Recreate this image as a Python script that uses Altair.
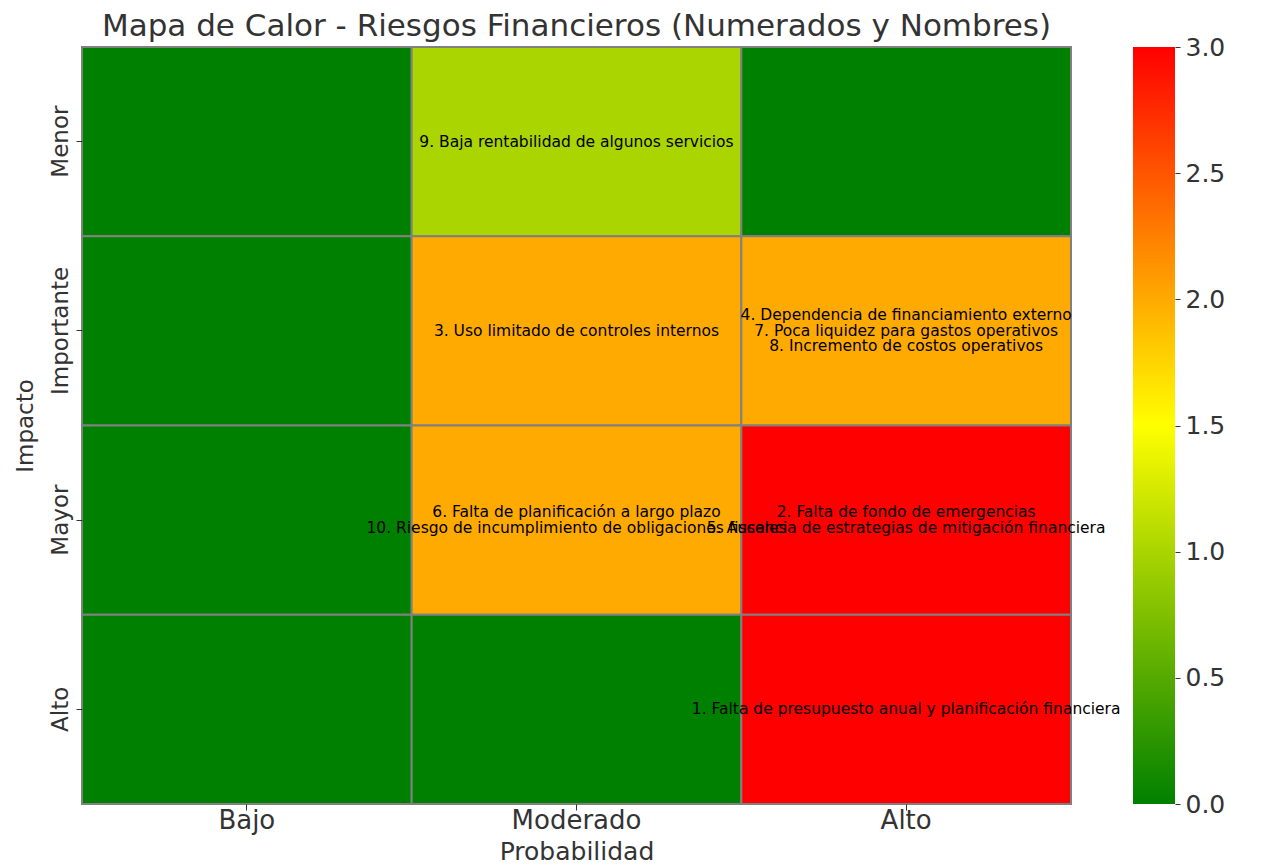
import altair as alt
import pandas as pd

# Data
impacto = ["Menor", "Importante", "Mayor", "Alto"]
probabilidad = ["Bajo", "Moderado", "Alto"]
valores = [
    [0, 1, 0],
    [0, 2, 2],
    [0, 2, 3],
    [0, 0, 3],
]
etiquetas = [
    ["", "9. Baja rentabilidad de algunos servicios", ""],
    ["", "3. Uso limitado de controles internos",
     "4. Dependencia de financiamiento externo\n7. Poca liquidez para gastos operativos\n8. Incremento de costos operativos"],
    ["", "6. Falta de planificación a largo plazo\n10. Riesgo de incumplimiento de obligaciones fiscales",
     "2. Falta de fondo de emergencias\n5. Ausencia de estrategias de mitigación financiera"],
    ["", "", "1. Falta de presupuesto anual y planificación financiera"],
]
escala_min, escala_max = 0, 3
colorbar_ticks = [0.0, 0.5, 1.0, 1.5, 2.0, 2.5, 3.0]
colores = ["#008000", "#ffff00", "#ff0000"]

FONT = "DejaVu Sans"
TXT = "#333333"
LINE_H = 15.5

rows = []
line_rows = []
for i, imp in enumerate(impacto):
    for j, prob in enumerate(probabilidad):
        rows.append({"Impacto": imp, "Probabilidad": prob, "Valor": valores[i][j]})
        if etiquetas[i][j]:
            lines = etiquetas[i][j].split("\n")
            n = len(lines)
            for k, ln in enumerate(lines):
                line_rows.append({"Impacto": imp, "Probabilidad": prob, "Linea": ln,
                                  "off": (k - (n - 1) / 2) * LINE_H})
df = pd.DataFrame(rows)
df_txt = pd.DataFrame(line_rows)

x_enc = alt.X("Probabilidad:N", sort=probabilidad, title="Probabilidad",
              axis=alt.Axis(labelAngle=0, labelFontSize=26, titleFontSize=25,
                            labelColor=TXT, titleColor=TXT, titleFontWeight="normal",
                            domain=False, tickColor=TXT, tickSize=6, labelPadding=-3,
                            titlePadding=6, labelFont=FONT, titleFont=FONT))
y_enc = alt.Y("Impacto:N", sort=impacto, title="Impacto",
              axis=alt.Axis(labelAngle=270, labelAlign="center", labelBaseline="bottom",
                            labelFontSize=23, titleFontSize=23, labelColor=TXT,
                            titleColor=TXT, titleFontWeight="normal", domain=False,
                            tickColor=TXT, tickSize=6, labelPadding=4, titlePadding=12,
                            labelFont=FONT, titleFont=FONT))

heat = alt.Chart(df).mark_rect(stroke="#808080", strokeWidth=2).encode(
    x=x_enc,
    y=y_enc,
    color=alt.Color("Valor:Q",
                    scale=alt.Scale(domain=[escala_min, escala_max], range=colores,
                                    interpolate="rgb"),
                    legend=None),
)

layers = [heat]
for o in sorted(df_txt["off"].unique()):
    layers.append(
        alt.Chart(df_txt).transform_filter(alt.datum.off == float(o))
        .mark_text(fontSize=15.5, font=FONT, color="black", baseline="middle", dy=float(o))
        .encode(
            x=alt.X("Probabilidad:N", sort=probabilidad),
            y=alt.Y("Impacto:N", sort=impacto),
            text="Linea:N",
        )
    )

main = alt.layer(*layers).properties(
    width=989, height=757,
    title=alt.Title("Mapa de Calor - Riesgos Financieros (Numerados y Nombres)",
                    fontSize=31, font=FONT, color=TXT, fontWeight="normal", offset=3),
)

cb_df = pd.DataFrame({"lo": [escala_min], "hi": [escala_max]})
gradient = alt.LinearGradient(
    gradient="linear",
    stops=[alt.GradientStop(offset=0, color=colores[0]),
           alt.GradientStop(offset=0.5, color=colores[1]),
           alt.GradientStop(offset=1, color=colores[2])],
    x1=0, x2=0, y1=1, y2=0,
)
colorbar = alt.Chart(cb_df).mark_rect(fill=gradient).encode(
    y=alt.Y("lo:Q", scale=alt.Scale(domain=[escala_min, escala_max], nice=False),
            title=None,
            axis=alt.Axis(orient="right", values=colorbar_ticks, format=".1f",
                          labelFontSize=25, labelColor=TXT, labelFont=FONT,
                          domain=False, grid=False, tickColor=TXT, tickSize=5,
                          labelPadding=5)),
    y2="hi:Q",
).properties(width=42, height=757)

chart = alt.hconcat(main, colorbar, spacing=62, bounds="flush").properties(
    padding={"left": 6, "top": 3, "right": 5, "bottom": 5},
).configure_view(stroke=None).configure_scale(bandPaddingInner=0, bandPaddingOuter=0)

chart.save("out.html", embed_options={"renderer": "svg", "actions": False})
